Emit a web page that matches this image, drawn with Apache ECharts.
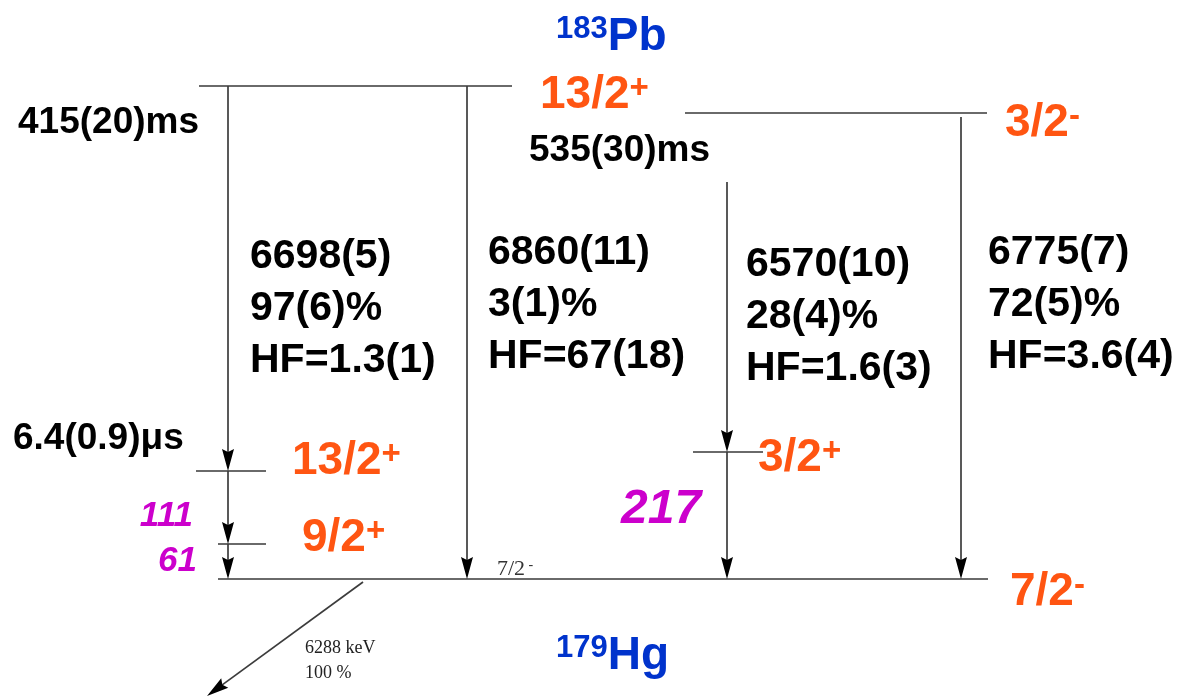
<!DOCTYPE html>
<html><head><meta charset="utf-8">
<script src="https://cdn.jsdelivr.net/npm/echarts@6/dist/echarts.min.js"></script>
<style>html,body{margin:0;padding:0;background:#fff}#c{width:1181px;height:697px}</style>
</head><body><div id="c"></div>
<script>
// ---- Level-scheme values ----
const parentNucleus = ['183', 'Pb'];
const daughterNucleus = ['179', 'Hg'];
const halfLives = ['415(20)ms', '535(30)ms', '6.4(0.9)\u03bcs'];
const alphaEnergy = ['6698(5)', '6860(11)', '6570(10)', '6775(7)'];
const alphaIntensity = ['97(6)%', '3(1)%', '28(4)%', '72(5)%'];
const hindrance = ['HF=1.3(1)', 'HF=67(18)', 'HF=1.6(3)', 'HF=3.6(4)'];
const spinValue = ['13/2', '3/2', '13/2', '9/2', '3/2', '7/2'];
const spinParity = ['+', '-', '+', '+', '+', '-'];
const gammaEnergy = ['111', '61', '217'];
const groundDecay = ['6288 keV', '100 %'];
const groundSpinSmall = ['7/2', '-'];

// ---- Diagram coordinates (units of the hidden drawing axes) ----
const levelY  = [86, 113, 471, 544, 452, 579];
const levelX0 = [199, 685, 196, 218, 693, 218];
const levelX1 = [512, 987, 266, 266, 763, 988];
const alphaX  = [228, 467, 727, 961];
const alphaY0 = [86, 86, 182, 117];
const alphaY1 = [471, 579, 452, 579];
const gammaX  = [228, 228, 727];
const gammaY0 = [471, 544, 452];
const gammaY1 = [544, 579, 579];
const groundArrowFrom = [363, 582];
const groundArrowTo = [207, 696];

// label anchor points
const spinLabelX = [540, 1005, 292, 302, 758, 1010];
const spinLabelY = [92, 120, 458, 535, 455, 589];
const alphaLabelX = [250, 488, 746, 988];
const alphaLabelY = [306, 302, 314, 302];
const halfLifeX = [18, 529, 13];
const halfLifeY = [120, 148, 436];
const gammaLabelX = [193, 197, 621];
const gammaLabelY = [513, 558, 507];
const gammaLabelAlign = ['right', 'right', 'left'];

const FONT = '"Liberation Sans", Arial, Helvetica, sans-serif';
const SERIF = '"Liberation Serif", "Times New Roman", serif';
const ORANGE = '#ff5512', BLUE = '#0033cc', MAGENTA = '#cc00cc';

const levelData = levelY.map((y, i) => [levelX0[i], levelX1[i], y]);
const arrowData = [];
alphaX.forEach((x, i) => arrowData.push([x, alphaY0[i], x, alphaY1[i]]));
gammaX.forEach((x, i) => arrowData.push([x, gammaY0[i], x, gammaY1[i]]));
arrowData.push([groundArrowFrom[0], groundArrowFrom[1], groundArrowTo[0], groundArrowTo[1]]);

const RICH = {
  sp:   {fontFamily: FONT, fontWeight: 'bold', fontSize: 46, lineHeight: 46, color: ORANGE},
  sup:  {fontFamily: FONT, fontWeight: 'bold', fontSize: 33, lineHeight: 38, color: ORANGE, verticalAlign: 'top'},
  supm: {fontFamily: FONT, fontWeight: 'bold', fontSize: 33, lineHeight: 46, color: ORANGE, verticalAlign: 'top'},
  nuc:  {fontFamily: FONT, fontWeight: 'bold', fontSize: 46, lineHeight: 46, color: BLUE},
  nsup: {fontFamily: FONT, fontWeight: 'bold', fontSize: 31, lineHeight: 24, color: BLUE, verticalAlign: 'top'},
  blk:  {fontFamily: FONT, fontWeight: 'bold', fontSize: 41, lineHeight: 52, color: '#000'},
  hl:   {fontFamily: FONT, fontWeight: 'bold', fontSize: 37, lineHeight: 40, color: '#000'},
  gs:   {fontFamily: FONT, fontWeight: 'bold', fontStyle: 'italic', fontSize: 35, lineHeight: 40, color: MAGENTA},
  gb:   {fontFamily: FONT, fontWeight: 'bold', fontStyle: 'italic', fontSize: 48, lineHeight: 48, color: MAGENTA},
  sm:   {fontFamily: SERIF, fontSize: 22, lineHeight: 22, color: '#333'},
  smsup:{fontFamily: SERIF, fontSize: 14, lineHeight: 14, color: '#333', verticalAlign: 'top'},
  ser:  {fontFamily: SERIF, fontSize: 18, lineHeight: 25, color: '#222'}
};

const texts = [];
function addText(x, y, formatter, align) {
  texts.push({value: [x, y], label: {formatter: formatter, align: align || 'left'}});
}
addText(556, 34, '{nsup|' + parentNucleus[0] + '}{nuc|' + parentNucleus[1] + '}');
addText(556, 653, '{nsup|' + daughterNucleus[0] + '}{nuc|' + daughterNucleus[1] + '}');
spinValue.forEach((s, i) => {
  const p = spinParity[i] === '-' ? '{supm|-}' : '{sup|+}';
  addText(spinLabelX[i], spinLabelY[i], '{sp|' + s + '}' + p);
});
alphaEnergy.forEach((e, i) => {
  addText(alphaLabelX[i], alphaLabelY[i],
    '{blk|' + e + '}\n{blk|' + alphaIntensity[i] + '}\n{blk|' + hindrance[i] + '}');
});
halfLives.forEach((h, i) => addText(halfLifeX[i], halfLifeY[i], '{hl|' + h + '}'));
gammaEnergy.forEach((g, i) => addText(gammaLabelX[i], gammaLabelY[i], (i === 2 ? '{gb|' : '{gs|') + g + '}', gammaLabelAlign[i]));
addText(497, 566, '{sm|' + groundSpinSmall[0] + '} {smsup|' + groundSpinSmall[1] + '}');
addText(305, 658, '{ser|' + groundDecay[0] + '}\n{ser|' + groundDecay[1] + '}');

function renderLevel(params, api) {
  const a = api.coord([api.value(0), api.value(2)]);
  const b = api.coord([api.value(1), api.value(2)]);
  return {type: 'line', shape: {x1: a[0], y1: a[1], x2: b[0], y2: b[1]},
          style: {stroke: '#6a6a6a', lineWidth: 2.2}};
}
function renderArrow(params, api) {
  const p0 = api.coord([api.value(0), api.value(1)]);
  const p1 = api.coord([api.value(2), api.value(3)]);
  const dx = p1[0] - p0[0], dy = p1[1] - p0[1];
  const len = Math.sqrt(dx * dx + dy * dy);
  const ux = dx / len, uy = dy / len;
  const hl = 22, hw = 6;
  const bx = p1[0] - ux * hl, by = p1[1] - uy * hl;
  return {type: 'group', children: [
    {type: 'line', shape: {x1: p0[0], y1: p0[1], x2: bx + ux * 4, y2: by + uy * 4},
     style: {stroke: '#3c3c3c', lineWidth: 1.7}},
    {type: 'polygon', shape: {points: [[p1[0], p1[1]],
        [bx - uy * hw, by + ux * hw], [bx + ux * 3, by + uy * 3], [bx + uy * hw, by - ux * hw]]},
     style: {fill: '#000'}}
  ]};
}

const chart = echarts.init(document.getElementById('c'), null, {renderer: 'canvas'});
chart.setOption({
  backgroundColor: '#fff',
  animation: false,
  grid: {left: 0, right: 0, top: 0, bottom: 0, containLabel: false},
  xAxis: {type: 'value', min: 0, max: 1181, show: false},
  yAxis: {type: 'value', min: 0, max: 697, inverse: true, show: false},
  series: [
    {type: 'custom', name: 'levels', renderItem: renderLevel, data: levelData,
     encode: {x: [0, 1], y: 2}, silent: true, z: 2},
    {type: 'custom', name: 'transitions', renderItem: renderArrow, data: arrowData,
     encode: {x: [0, 2], y: [1, 3]}, silent: true, z: 3},
    {type: 'scatter', name: 'labels', data: texts, symbolSize: 0, silent: true, z: 5,
     itemStyle: {opacity: 1},
     label: {show: true, position: 'inside', verticalAlign: 'middle', offset: [0, 3], opacity: 1, rich: RICH}}
  ]
});
</script></body></html>
